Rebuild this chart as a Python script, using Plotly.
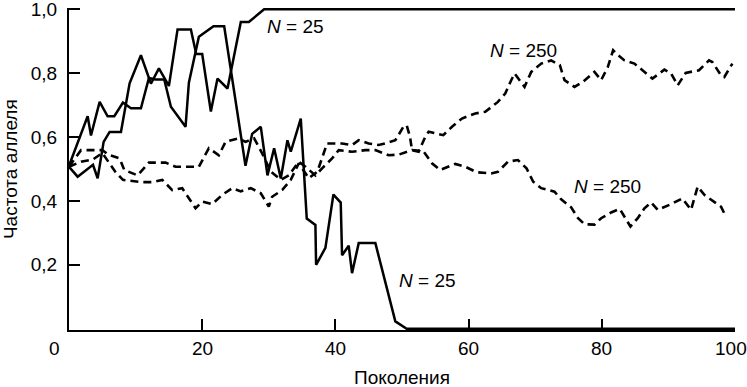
import plotly.graph_objects as go

# ---- data (generation, allele frequency) ----
n25_lost_gen = [0, 2.8, 3.3, 4.6, 5.8, 6.8, 8.1, 9.3, 10.8, 12.0, 13.0, 14.3, 15.3, 17.5, 18.0,
                19.5, 21.7, 23.3, 26.5, 27.5, 28.8, 29.8, 30.8, 31.8, 32.8, 33.3, 34.8, 35.7,
                37.0, 37.1, 38.5, 39.7, 40.8, 41.0, 42.0, 42.5, 43.5, 46.0, 49.0, 50.7, 100]
n25_lost_val = [0.51, 0.665, 0.605, 0.71, 0.665, 0.665, 0.708, 0.69, 0.69, 0.785, 0.78, 0.78,
                0.695, 0.632, 0.77, 0.914, 0.947, 0.947, 0.51, 0.61, 0.632, 0.48, 0.565, 0.47,
                0.59, 0.554, 0.658, 0.345, 0.325, 0.20, 0.253, 0.42, 0.395, 0.23, 0.26, 0.174,
                0.268, 0.268, 0.023, 0.0, 0.0]

n25_fixed_gen = [0, 1.3, 3.6, 4.3, 5.2, 6.1, 7.8, 9.1, 10.8, 12.3, 13.5, 15.0, 16.3, 18.3,
                 19.1, 20.0, 21.3, 22.3, 23.8, 25.8, 27.0, 29.3, 100]
n25_fixed_val = [0.507, 0.476, 0.513, 0.471, 0.585, 0.616, 0.616, 0.768, 0.856, 0.767, 0.815,
                 0.76, 0.937, 0.937, 0.86, 0.86, 0.68, 0.783, 0.752, 0.96, 0.96, 1.0, 1.0]

n250_low_gen = [0, 1.8, 5, 6, 7.6, 8.3, 10.3, 12, 14.5, 16, 19.5, 21, 22.5, 23.5, 25.5, 26.5,
                27.8, 29, 30.3, 31.8, 33, 34.5, 35.5, 37, 38, 39.5, 40.5, 42.5, 44.5, 46, 48,
                49.5, 51.5, 53.2, 54.5, 55.7, 58, 59.5, 61.2, 63.4, 64.4, 65.9, 67.4, 68.7,
                69.7, 70.9, 72.9, 73.9, 75.4, 76.4, 77.4, 78.9, 79.9, 81.4, 82.7, 83.4, 84.3,
                85.4, 86.4, 87.4, 88.4, 90.4, 92.1, 93.4, 94.4, 95.4, 96.6, 97.9, 98.4]
n250_low_val = [0.507, 0.559, 0.559, 0.544, 0.533, 0.497, 0.48, 0.52, 0.52, 0.507, 0.507, 0.565,
                0.543, 0.585, 0.596, 0.585, 0.596, 0.549, 0.492, 0.466, 0.48, 0.523, 0.507,
                0.48, 0.502, 0.533, 0.559, 0.554, 0.559, 0.559, 0.543, 0.545, 0.559, 0.556,
                0.518, 0.497, 0.516, 0.507, 0.49, 0.486, 0.491, 0.523, 0.528, 0.502, 0.46,
                0.44, 0.429, 0.405, 0.38, 0.347, 0.327, 0.326, 0.346, 0.364, 0.375, 0.351,
                0.32, 0.346, 0.377, 0.395, 0.372, 0.39, 0.408, 0.372, 0.445, 0.419, 0.401,
                0.382, 0.361]

n250_high_gen = [0, 1.8, 3.6, 5, 6, 7, 8.1, 10.8, 12.5, 14, 15.5, 17, 19, 20, 21.5, 23, 24.5,
                 25.8, 27.3, 28.8, 30, 30.5, 32, 33.3, 34.5, 36, 37.3, 38.75, 41, 42.5, 43.5,
                 45, 46.5, 47.5, 49, 50.2, 50.7, 51.2, 51.5, 52.5, 53.5, 54, 55.2, 56.2, 57.5,
                 59, 61, 62.5, 64.4, 65.5, 66.4, 66.9, 68.4, 69.4, 70.9, 72.4, 73.7, 74.4,
                 75.9, 77.2, 78.9, 79.9, 80.9, 81.7, 82.2, 83.4, 84.9, 86.6, 87.6, 89.4, 90.4,
                 91.4, 92.6, 94.6, 96.1, 96.6, 97.9, 98.4, 99.6]
n250_high_val = [0.507, 0.523, 0.53, 0.55, 0.52, 0.49, 0.466, 0.459, 0.459, 0.466, 0.434, 0.44,
                 0.377, 0.398, 0.39, 0.419, 0.44, 0.43, 0.44, 0.424, 0.382, 0.413, 0.434,
                 0.466, 0.518, 0.471, 0.492, 0.58, 0.58, 0.575, 0.59, 0.58, 0.575, 0.58, 0.59,
                 0.632, 0.637, 0.601, 0.559, 0.554, 0.601, 0.617, 0.611, 0.606, 0.632, 0.658,
                 0.674, 0.679, 0.71, 0.736, 0.778, 0.799, 0.757, 0.804, 0.83, 0.84, 0.825,
                 0.778, 0.757, 0.773, 0.804, 0.778, 0.819, 0.872, 0.861, 0.84, 0.83, 0.799,
                 0.783, 0.811, 0.799, 0.762, 0.801, 0.809, 0.84, 0.835, 0.793, 0.788, 0.83]

x_ticks = [0, 20, 40, 60, 80, 100]
x_tick_labels = ["0", "20", "40", "60", "80", "100"]
y_ticks = [0.2, 0.4, 0.6, 0.8, 1.0]
y_tick_labels = ["0,2", "0,4", "0,6", "0,8", "1,0"]

labels = [("<i>N</i> = 25", 29.5, 0.945),
          ("<i>N</i> = 250", 62.9, 0.872),
          ("<i>N</i> = 250", 75.5, 0.444),
          ("<i>N</i> = 25", 49.2, 0.15)]

FONT = "Liberation Sans, Arial, sans-serif"
FS = 19

fig = go.Figure()
for gx, gy in [(n250_low_gen, n250_low_val), (n250_high_gen, n250_high_val)]:
    fig.add_trace(go.Scatter(x=gx, y=gy, mode="lines",
                             line=dict(color="black", width=2.6, dash="8px,5px"),
                             showlegend=False, hoverinfo="skip"))
for gx, gy in [(n25_lost_gen, n25_lost_val), (n25_fixed_gen, n25_fixed_val)]:
    fig.add_trace(go.Scatter(x=gx, y=gy, mode="lines",
                             line=dict(color="black", width=2.5),
                             showlegend=False, hoverinfo="skip"))

annotations = []
for txt, gx, gy in labels:
    annotations.append(dict(x=gx, y=gy, xref="x", yref="y", text=txt, showarrow=False,
                            xanchor="left", yanchor="middle",
                            font=dict(family=FONT, size=FS, color="black")))
# x tick labels placed as text below the axis (first and last are nudged like the original)
x_label_pos = [-0.022, 0.2, 0.4, 0.6, 0.8, 0.994]
for pos, txt in zip(x_label_pos, x_tick_labels):
    annotations.append(dict(x=pos, y=0, xref="paper", yref="paper", text=txt, showarrow=False,
                            xanchor="center", yanchor="top", yshift=-6,
                            font=dict(family=FONT, size=FS, color="black")))
annotations.append(dict(x=0.5, y=-0.149, xref="paper", yref="paper", text="Поколения",
                        showarrow=False, xanchor="center", yanchor="middle",
                        font=dict(family=FONT, size=FS, color="black")))
annotations.append(dict(x=-0.0885, y=0.5, xref="paper", yref="paper", text="Частота аллеля",
                        showarrow=False, xanchor="center", yanchor="middle", textangle=-90,
                        font=dict(family=FONT, size=FS, color="black")))

fig.update_layout(
    width=747, height=387, autosize=False,
    margin=dict(l=69, r=12, t=8, b=57),
    paper_bgcolor="white", plot_bgcolor="white",
    font=dict(family=FONT, size=FS, color="black"),
    annotations=annotations,
    xaxis=dict(range=[0, 100], tickvals=x_ticks, showticklabels=False,
               ticks="inside", ticklen=11, tickwidth=2, tickcolor="black",
               showline=True, linewidth=2, linecolor="black",
               showgrid=False, zeroline=False, automargin=False),
    yaxis=dict(range=[-0.004, 1.004], tickvals=y_ticks, ticktext=y_tick_labels,
               ticks="inside", ticklen=11, tickwidth=2, tickcolor="black",
               showline=True, linewidth=2, linecolor="black",
               showgrid=False, zeroline=False, ticklabelstandoff=6,
               ticklabeloverflow="allow", automargin=False,
               tickfont=dict(family=FONT, size=FS, color="black")),
)

fig.write_html("out.html",
               config={"responsive": False, "displayModeBar": False},
               post_script="document.body.style.margin='0';document.body.style.overflow='hidden';")
